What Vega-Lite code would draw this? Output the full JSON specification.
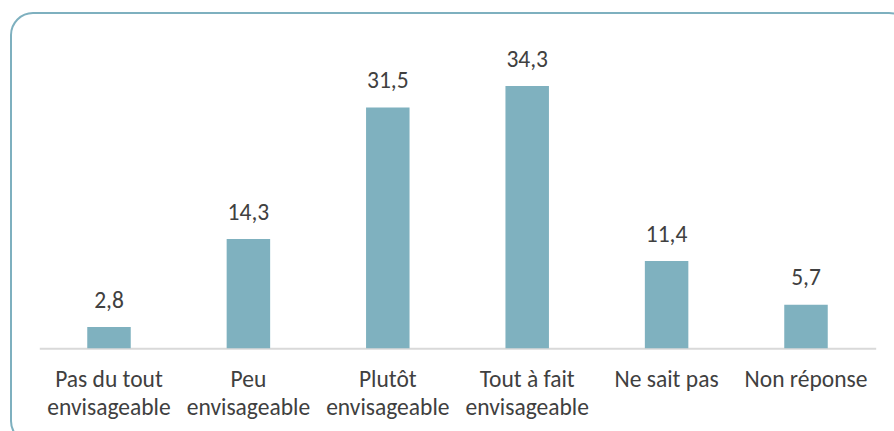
{
  "$schema": "https://vega.github.io/schema/vega-lite/v6.json",
  "autosize": {"type": "none"},
  "width": 900,
  "height": 430,
  "padding": {"left": 11, "top": 13, "right": -17, "bottom": -12},
  "background": "white",
  "config": {
    "view": {"stroke": "#7EB0BF", "strokeWidth": 2, "cornerRadius": 22},
    "font": "Carlito"
  },
  "data": {
    "values": [
      {"cat": "Pas du tout|envisageable", "value": 2.8, "label": "2,8"},
      {"cat": "Peu|envisageable", "value": 14.3, "label": "14,3"},
      {"cat": "Plutôt|envisageable", "value": 31.5, "label": "31,5"},
      {"cat": "Tout à fait|envisageable", "value": 34.3, "label": "34,3"},
      {"cat": "Ne sait pas", "value": 11.4, "label": "11,4"},
      {"cat": "Non réponse", "value": 5.7, "label": "5,7"}
    ]
  },
  "encoding": {
    "x": {
      "field": "cat",
      "type": "nominal",
      "sort": null,
      "scale": {"range": [28.3, 864.7], "paddingInner": 0.688, "paddingOuter": 0.344},
      "axis": {
        "title": null,
        "ticks": false,
        "tickSize": 0,
        "grid": false,
        "domainColor": "#D9D9D9",
        "domainWidth": 2,
        "offset": -94.7,
        "labelAngle": 0,
        "labelBaseline": "alphabetic",
        "labelPadding": 38.4,
        "labelFontSize": 23.5,
        "labelColor": "#404040",
        "labelFont": "Carlito",
        "labelExpr": "split(datum.label, '|')",
        "labelLineHeight": 27.6,
        "labelLimit": 0,
        "labelOverlap": false,
        "labelBound": false,
        "labelFlush": false
      }
    }
  },
  "layer": [
    {
      "mark": {"type": "bar", "color": "#7FB1BF"},
      "encoding": {
        "y": {
          "field": "value",
          "type": "quantitative",
          "scale": {"domain": [0, 40], "range": [335.3, 29.42]},
          "axis": null
        }
      }
    },
    {
      "mark": {"type": "text", "baseline": "alphabetic", "dy": -19.3, "fontSize": 23.5, "color": "#404040", "font": "Carlito"},
      "encoding": {
        "y": {"field": "value", "type": "quantitative"},
        "text": {"field": "label"}
      }
    }
  ]
}
